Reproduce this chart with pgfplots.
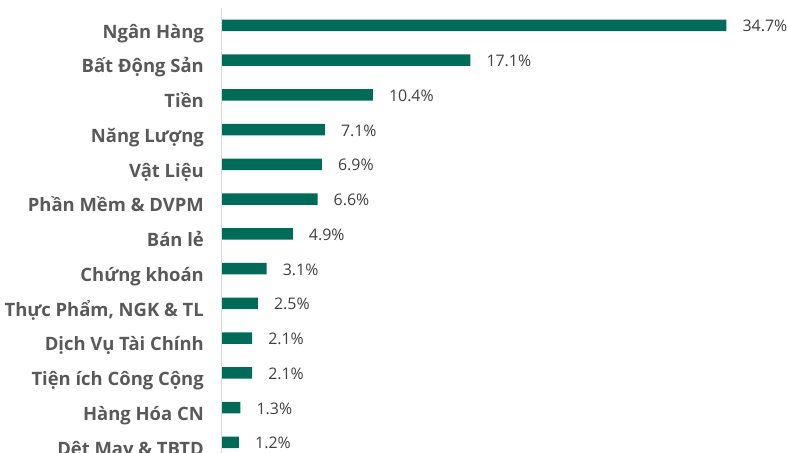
\documentclass[border=0pt]{standalone}
\usepackage{fontspec}
\setmainfont{Open Sans}
\usepackage{pgfplots}
\pgfplotsset{compat=1.18}
\usetikzlibrary{calc}
\definecolor{barc}{HTML}{006B58}
\definecolor{lab}{HTML}{595959}
\definecolor{val}{HTML}{404040}
\definecolor{axl}{HTML}{D9D9D9}
\begin{document}
\begin{tikzpicture}
\begin{axis}[
  scale only axis, width=582bp, height=451.75bp,
  xmin=0, xmax=40, ymin=-0.5, ymax=12.5, y dir=reverse,
  xbar, bar width=11.5bp, bar shift=0pt,
  axis line style={draw=none},
  xtick=\empty, ytick={0,...,12},
  yticklabels={Ngân Hàng, Bất Động Sản, Tiền, Năng Lượng, Vật Liệu, Phần Mềm \& DVPM, Bán lẻ, Chứng khoán, {Thực Phẩm, NGK \& TL}, Dịch Vụ Tài Chính, Tiện ích Công Cộng, Hàng Hóa CN, Dệt May \& TBTD},
  major tick length=0pt,
  yticklabel style={font=\bfseries\fontsize{18.5}{20}\selectfont, text=lab, anchor=base east, inner sep=0pt, xshift=-17.5bp, yshift=-12.8bp},
  /pgf/number format/assume math mode=true,
  nodes near coords={\pgfmathprintnumber[fixed,precision=1,fixed zerofill,assume math mode=true]{\pgfplotspointmeta}\%},
  nodes near coords style={font=\fontsize{16}{18}\selectfont, text=val, anchor=base west, inner sep=0pt, xshift=16bp, yshift=-6.5bp},
  clip=false,
]
\addplot[fill=barc, draw=none] coordinates {
 (34.7,0) (17.1,1) (10.4,2) (7.1,3) (6.9,4) (6.6,5) (4.9,6) (3.1,7) (2.5,8) (2.1,9) (2.1,10) (1.3,11) (1.2,12)};
\draw[axl, line width=1.5bp] (axis cs:0,-0.5) -- (axis cs:0,12.5);
\coordinate (O) at (axis cs:0,-0.5);
\end{axis}
\pgfresetboundingbox
\path[use as bounding box] ($(O)+(-221.5bp,8bp)$) rectangle ($(O)+(566.5bp,-445bp)$);
\end{tikzpicture}
\end{document}
